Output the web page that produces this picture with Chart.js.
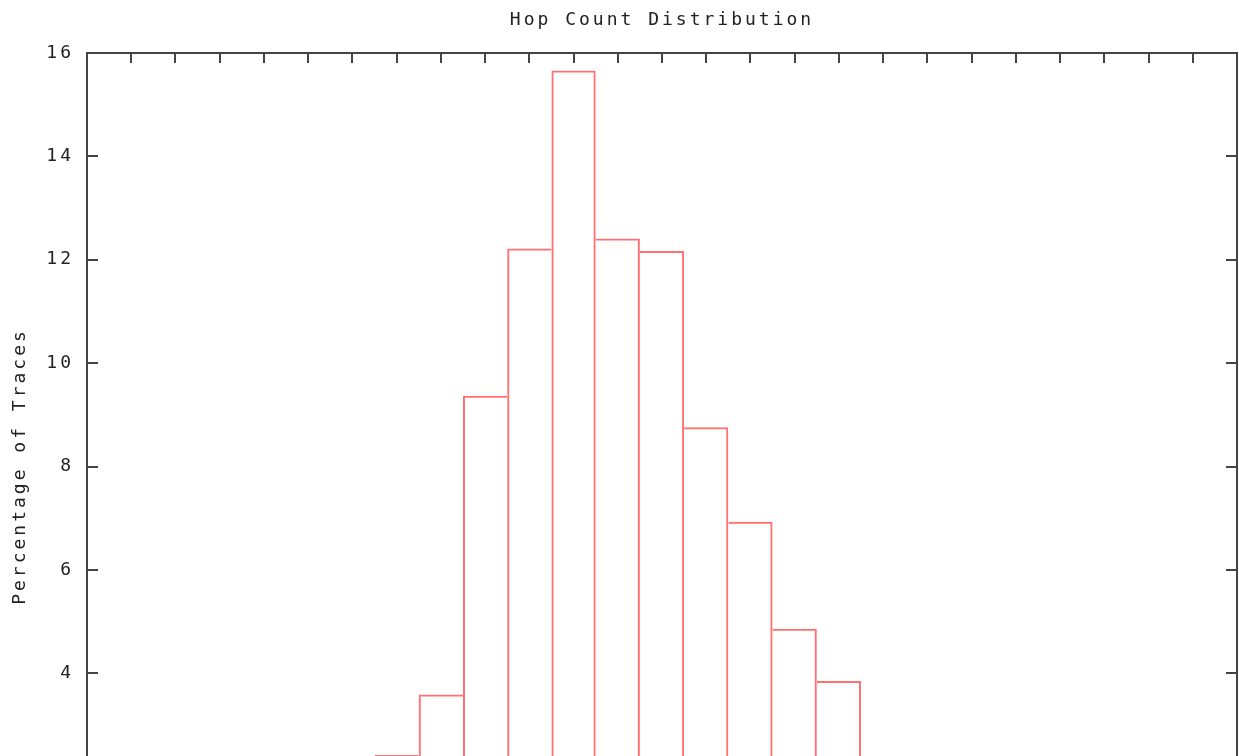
<!DOCTYPE html>
<html>
<head>
<meta charset="utf-8">
<title>Hop Count Distribution</title>
<script src="https://cdn.jsdelivr.net/npm/chart.js@4"></script>
<style>
  html, body { margin: 0; padding: 0; background: #fff; overflow: hidden; }
  canvas { display: block; }
</style>
</head>
<body>
<canvas id="hopChart" width="1239" height="930"></canvas>
<script>
// values
const hops = [7, 8, 9, 10, 11, 12, 13, 14, 15, 16, 17];
const percentTraces = [2.42, 3.59, 9.37, 12.22, 15.66, 12.41, 12.17, 8.76, 6.93, 4.86, 3.85];
const xRange = [0, 26];
const yRange = [0, 16];
const yStep = 2;

const chartTitle = 'Hop Count Distribution';
const yTitle = 'Percentage of Traces';

const TEXT_COLOR = '#222';
const AXIS_COLOR = '#444';
const BAR_COLOR = 'rgb(255, 112, 112)';
const LETTER_SPACING = '3px';
const monoFont = { family: '"DejaVu Sans Mono", monospace', size: 18 };

// gnuplot style text is widely spaced
const spacingPlugin = {
    id: 'spacing',
    beforeLayout(chart) { chart.ctx.letterSpacing = LETTER_SPACING; },
    beforeDraw(chart) { chart.ctx.letterSpacing = LETTER_SPACING; }
};

// frame round the plot and inward tick marks on all four sides
const framePlugin = {
    id: 'frame',
    afterDraw(chart) {
        const { ctx, chartArea: a, scales: { x, y } } = chart;
        ctx.save();
        ctx.strokeStyle = AXIS_COLOR;
        ctx.lineWidth = 2;
        ctx.beginPath();
        x.ticks.forEach(t => {
            const px = Math.round(x.getPixelForValue(t.value));
            ctx.moveTo(px, a.top);
            ctx.lineTo(px, a.top + 10);
            ctx.moveTo(px, a.bottom);
            ctx.lineTo(px, a.bottom - 10);
        });
        y.ticks.forEach(t => {
            const py = Math.round(y.getPixelForValue(t.value));
            ctx.moveTo(a.left, py);
            ctx.lineTo(a.left + 11, py);
            ctx.moveTo(a.right, py);
            ctx.lineTo(a.right - 11, py);
        });
        ctx.stroke();
        ctx.strokeRect(a.left, a.top, a.right - a.left, a.bottom - a.top);
        ctx.restore();
    }
};

// shared edges between boxes are drawn once, by the taller box
function edgeWidths(ctx) {
    const i = ctx.dataIndex;
    const v = percentTraces[i];
    const prev = i > 0 ? percentTraces[i - 1] : 0;
    const next = i < percentTraces.length - 1 ? percentTraces[i + 1] : 0;
    return { top: 2, bottom: 0, left: v >= prev ? 2 : 0, right: v > next ? 2 : 0 };
}

// keep the end tick labels from shrinking the plot area
function noSidePadding(scale) {
    scale.paddingLeft = 0;
    scale.paddingRight = 0;
}

const ctx = document.getElementById('hopChart').getContext('2d');
const myChart = new Chart(ctx, {
    type: 'bar',
    data: {
        datasets: [{
            label: 'Hops',
            data: hops.map((h, i) => ({ x: h, y: percentTraces[i] })),
            backgroundColor: 'rgba(0, 0, 0, 0)',
            borderColor: BAR_COLOR,
            borderWidth: edgeWidths,
            borderSkipped: false,
            inflateAmount: 0,
            barPercentage: 1,
            categoryPercentage: 1
        }]
    },
    options: {
        responsive: false,
        animation: false,
        devicePixelRatio: 1,
        layout: { padding: { left: 0, right: 2, top: 0, bottom: 0 } },
        plugins: {
            legend: { display: false },
            tooltip: { enabled: false },
            title: { display: false }
        },
        scales: {
            x: {
                type: 'linear',
                position: 'bottom',
                min: xRange[0],
                max: xRange[1],
                offset: false,
                grid: { display: false, offset: false },
                border: { display: false },
                ticks: { stepSize: 1, color: TEXT_COLOR, font: monoFont, maxRotation: 0, autoSkip: false, padding: 8 },
                afterFit(scale) { scale.height = 50; noSidePadding(scale); }
            },
            x2: {
                type: 'linear',
                position: 'top',
                min: xRange[0],
                max: xRange[1],
                offset: false,
                grid: { display: false, drawTicks: false, offset: false },
                border: { display: false },
                ticks: { display: false },
                title: {
                    display: true,
                    text: chartTitle,
                    color: TEXT_COLOR,
                    font: monoFont,
                    padding: { top: 10, bottom: 0 }
                },
                afterFit(scale) { scale.height = 53; noSidePadding(scale); }
            },
            y: {
                min: yRange[0],
                max: yRange[1],
                grid: { display: true, drawOnChartArea: false, drawTicks: false },
                border: { display: false },
                ticks: { stepSize: yStep, color: TEXT_COLOR, font: monoFont, padding: 13 },
                title: {
                    display: true,
                    text: yTitle,
                    color: TEXT_COLOR,
                    font: monoFont,
                    padding: { top: 10, bottom: 0 }
                },
                afterFit(scale) { scale.width = 87; }
            }
        }
    },
    plugins: [spacingPlugin, framePlugin]
});
</script>
</body>
</html>
